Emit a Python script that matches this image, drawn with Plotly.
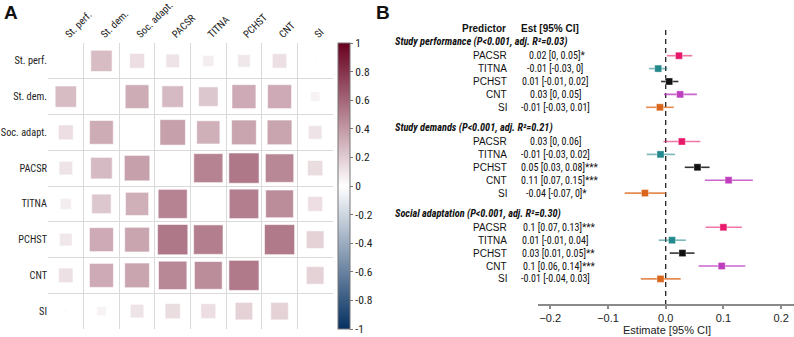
import numpy as np
import plotly.graph_objects as go

W, H = 794, 337

# ---------------- Data ----------------
corr_vars = ["St. perf.", "St. dem.", "Soc. adapt.", "PACSR", "TITNA", "PCHST", "CNT", "SI"]
# lower-triangle correlations (row i, columns 0..i-1)
corr_lower = [
    [],
    [0.37],
    [0.18, 0.46],
    [0.15, 0.38, 0.53],
    [0.10, 0.31, 0.44, 0.69],
    [0.13, 0.47, 0.50, 0.75, 0.71],
    [0.17, 0.47, 0.50, 0.66, 0.63, 0.74],
    [0.01, 0.07, 0.15, 0.19, 0.18, 0.25, 0.25],
]
cbar_vals = [1, 0.8, 0.6, 0.4, 0.2, 0, -0.2, -0.4, -0.6, -0.8, -1]
cbar_text = ["1", "0.8", "0.6", "0.4", "0.2", "0", "-0.2", "-0.4", "-0.6", "-0.8", "-1"]

outcomes = ["Study performance (P&lt;0.001, adj. R²=0.03)",
            "Study demands (P&lt;0.001, adj. R²=0.21)",
            "Social adaptation (P&lt;0.001, adj. R²=0.30)"]
predictors = ["PACSR", "TITNA", "PCHST", "CNT", "SI"]
pred_colors = ["#E8196B", "#23898C", "#111111", "#BE3EBE", "#D9661A"]
pred_line_colors = ["rgba(232,25,107,0.6)", "rgba(35,137,140,0.6)", "rgba(17,17,17,0.85)",
                    "rgba(190,62,190,0.8)", "rgba(217,102,26,0.75)"]
# estimates per outcome (rows) x predictor (cols)
est = [
    [0.023, -0.013, 0.006, 0.025, -0.010],
    [0.028, -0.009, 0.055, 0.109, -0.036],
    [0.100, 0.011, 0.029, 0.097, -0.009],
]
ci_lo = [
    [0.002, -0.029, -0.008, -0.003, -0.034],
    [-0.004, -0.033, 0.033, 0.068, -0.071],
    [0.069, -0.012, 0.007, 0.057, -0.043],
]
ci_hi = [
    [0.046, 0.003, 0.022, 0.054, 0.014],
    [0.060, 0.016, 0.076, 0.151, 0.000],
    [0.132, 0.035, 0.050, 0.138, 0.026],
]
est_text = [
    ["0.02 [0, 0.05]*", "-0.01 [-0.03, 0]", "0.01 [-0.01, 0.02]", "0.03 [0, 0.05]", "-0.01 [-0.03, 0.01]"],
    ["0.03 [0, 0.06]", "-0.01 [-0.03, 0.02]", "0.05 [0.03, 0.08]***", "0.11 [0.07, 0.15]***", "-0.04 [-0.07, 0]*"],
    ["0.1 [0.07, 0.13]***", "0.01 [-0.01, 0.04]", "0.03 [0.01, 0.05]**", "0.1 [0.06, 0.14]***", "-0.01 [-0.04, 0.03]"],
]
x_ticks = [-0.2, -0.1, 0.0, 0.1, 0.2]
x_ticktext = ["−0.2", "−0.1", "0.0", "0.1", "0.2"]

# ---------------- Helpers ----------------
NARROW = "Roboto Condensed, Liberation Sans, Arial, sans-serif"
REG = "Liberation Sans, Arial, sans-serif"

def px(x):
    return x / W

def py(y):
    return 1 - y / H

n = len(corr_vars)
M = np.eye(n)
for i, row in enumerate(corr_lower):
    for j, v in enumerate(row):
        M[i, j] = v
        M[j, i] = v

# correlation panel geometry
cx0, cx1 = 48, 333
cy0, cy1 = 43, 329
cell = (cx1 - cx0) / n

xs, ys, cs, ss = [], [], [], []
for i in range(n):
    for j in range(n):
        if i == j:
            continue
        xs.append(j)
        ys.append(i)
        cs.append(M[i, j])
        ss.append(np.sqrt(abs(M[i, j])) * cell * 0.98)

fig = go.Figure()

fig.add_trace(go.Scatter(
    x=xs, y=ys, mode="markers", xaxis="x", yaxis="y", hoverinfo="skip",
    marker=dict(symbol="square", size=ss, color=cs, cmin=-1, cmax=1,
                colorscale=[[0, "#053061"], [0.5, "#FFFFFF"], [1, "#67001F"]],
                line=dict(width=0.8, color="rgba(255,255,255,0.7)"),
                showscale=True,
                colorbar=dict(x=px(338), xanchor="left", y=py(cy1), yanchor="bottom",
                              len=(cy1 - cy0) / H, lenmode="fraction",
                              thickness=12, thicknessmode="pixels",
                              outlinewidth=1, outlinecolor="#777",
                              tickvals=cbar_vals, ticktext=cbar_text,
                              ticks="outside", ticklen=3, tickcolor="#777",
                              tickfont=dict(family=NARROW, size=11.5, color="#222"),
                              xpad=0, ypad=0)),
    showlegend=False))

# ---------------- Forest panel ----------------
fx0, fx1 = 538, 794
zero_px = 665.7
unit = 577.0
xr = [(fx0 - zero_px) / unit, (fx1 - zero_px) / unit]
axis_y = 304

title_y = [41.7, 127.5, 213.3]
first_gap = 14.0
step = 12.9

def row_y(g, k):
    return title_y[g] + first_gap + step * k

# zero line
fig.add_trace(go.Scatter(x=[0, 0], y=[30, axis_y], mode="lines", xaxis="x2", yaxis="y2",
                         line=dict(color="#222", width=1.3, dash="5px,4px"),
                         hoverinfo="skip", showlegend=False))

for k, p in enumerate(predictors):
    xv = [est[g][k] for g in range(3)]
    yv = [row_y(g, k) for g in range(3)]
    plus = [ci_hi[g][k] - est[g][k] for g in range(3)]
    minus = [est[g][k] - ci_lo[g][k] for g in range(3)]
    fig.add_trace(go.Scatter(
        x=xv, y=yv, mode="markers", xaxis="x2", yaxis="y2", hoverinfo="skip",
        error_x=dict(type="data", array=plus, arrayminus=minus, width=0,
                     thickness=1.6, color=pred_line_colors[k]),
        marker=dict(symbol="square", size=7, color=pred_colors[k],
                    line=dict(width=0.6, color="rgba(255,255,255,0.6)")),
        showlegend=False))

anns = []
# panel letters
anns.append(dict(x=px(2), y=py(12), xref="paper", yref="paper", text="<b>A</b>",
                 showarrow=False, xanchor="left", yanchor="middle",
                 font=dict(family=REG, size=19, color="#111")))
anns.append(dict(x=px(374), y=py(12), xref="paper", yref="paper", text="<b>B</b>",
                 showarrow=False, xanchor="left", yanchor="middle",
                 font=dict(family=REG, size=19, color="#111")))

# headers
anns.append(dict(x=px(508), y=py(29), xref="paper", yref="paper", text="<b>Predictor</b>",
                 showarrow=False, xanchor="right", yanchor="middle",
                 font=dict(family=REG, size=10, color="#111")))
anns.append(dict(x=px(550), y=py(29), xref="paper", yref="paper", text="<b>Est [95% CI]</b>",
                 showarrow=False, xanchor="center", yanchor="middle",
                 font=dict(family=REG, size=10, color="#111")))

for g in range(3):
    anns.append(dict(x=px(393), y=py(title_y[g]), xref="paper", yref="paper",
                     text="<b><i>" + outcomes[g] + "</i></b>",
                     showarrow=False, xanchor="left", yanchor="middle",
                     font=dict(family=NARROW, size=10.3, color="#111")))
    for k, p in enumerate(predictors):
        yy = row_y(g, k)
        anns.append(dict(x=px(509), y=py(yy), xref="paper", yref="paper", text=p,
                         showarrow=False, xanchor="right", yanchor="middle",
                         font=dict(family=REG, size=10, color="#111")))
        t = est_text[g][k]
        stars = len(t) - len(t.rstrip("*"))
        anns.append(dict(x=px(555 + 1.5 * stars), y=py(yy), xref="paper", yref="paper", text=t,
                         showarrow=False, xanchor="center", yanchor="middle",
                         font=dict(family=NARROW, size=10, color="#111")))

# x-axis title of forest
anns.append(dict(x=px(667), y=0, xref="paper", yref="paper", text="Estimate [95% CI]",
                 showarrow=False, xanchor="center", yanchor="bottom", borderpad=0,
                 font=dict(family=REG, size=11, color="#222")))

fig.update_layout(
    width=W, height=H, margin=dict(l=0, r=0, t=0, b=0, autoexpand=False),
    paper_bgcolor="white", plot_bgcolor="white",
    annotations=anns,
    xaxis=dict(domain=[px(cx0), px(cx1)], range=[-0.5, n - 0.5], side="top",
               tickvals=list(range(n)), ticktext=corr_vars, tickangle=-45,
               showgrid=False, zeroline=False, showline=False, ticks="",
               automargin=False,
               tickfont=dict(family=NARROW, size=10.3, color="#222"),
               minor=dict(tickvals=[i - 0.5 for i in range(n + 1)], showgrid=True,
                          gridcolor="#DADADA", gridwidth=1, ticks=""),
               fixedrange=True),
    yaxis=dict(domain=[py(cy1), py(cy0)], range=[n - 0.5, -0.5],
               tickvals=list(range(n)), ticktext=corr_vars,
               showgrid=False, zeroline=False, showline=False, ticks="",
               automargin=False,
               tickfont=dict(family=NARROW, size=10.3, color="#222"),
               minor=dict(tickvals=[i - 0.5 for i in range(n + 1)], showgrid=True,
                          gridcolor="#DADADA", gridwidth=1, ticks=""),
               fixedrange=True),
    xaxis2=dict(domain=[px(fx0), px(fx1)], range=xr, anchor="y2",
                tickvals=x_ticks, ticktext=x_ticktext, automargin=False,
                showgrid=False, zeroline=False, showline=True, linecolor="#8A8A8A", linewidth=2,
                ticks="outside", ticklen=3, tickwidth=1.5, tickcolor="#8A8A8A",
                tickfont=dict(family=REG, size=11, color="#222")),
    yaxis2=dict(domain=[py(axis_y), 1], range=[axis_y, 0], anchor="x2", visible=False,
                automargin=False),
)

fig.write_html("out.html")
